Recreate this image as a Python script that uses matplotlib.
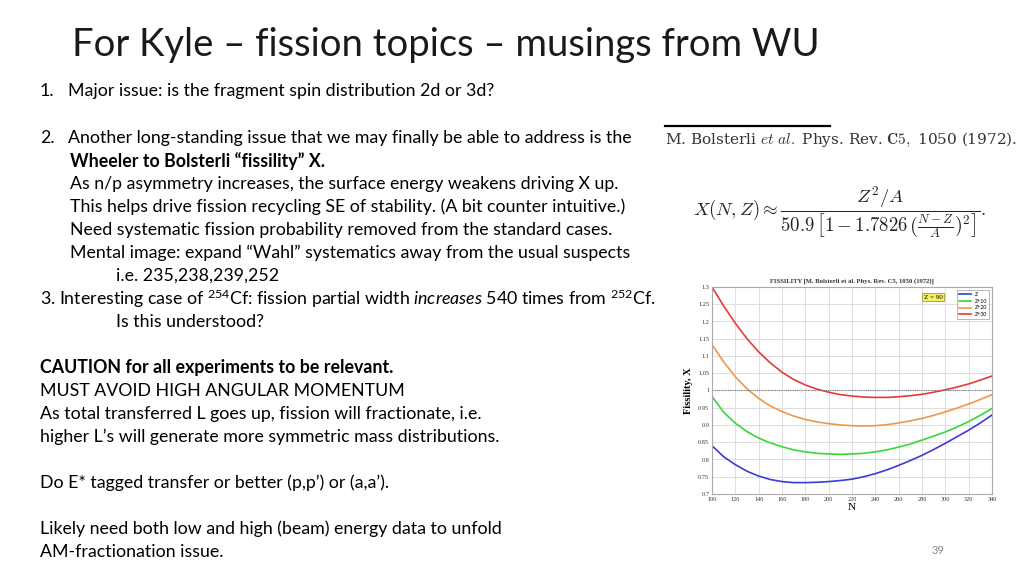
import numpy as np
import matplotlib
matplotlib.use("Agg")
import matplotlib.pyplot as plt

plt.rcParams["font.family"] = ["Lato", "DejaVu Sans"]
plt.rcParams["mathtext.fontset"] = "custom"
plt.rcParams["mathtext.rm"] = "Lato"
plt.rcParams["mathtext.it"] = "Lato:italic"
plt.rcParams["mathtext.bf"] = "Lato:bold"

# fissility curves (Z = 90)
n_vals = list(range(100, 341, 10))
x_z = [0.840, 0.808, 0.785, 0.766, 0.752, 0.742, 0.736, 0.733, 0.733, 0.734, 0.736, 0.739, 0.743,
       0.750, 0.759, 0.770, 0.783, 0.797, 0.812, 0.829, 0.847, 0.866, 0.885, 0.906, 0.929]
x_z10 = [0.983, 0.937, 0.905, 0.881, 0.862, 0.848, 0.837, 0.828, 0.822, 0.818, 0.816, 0.815, 0.816,
         0.818, 0.822, 0.828, 0.836, 0.845, 0.856, 0.868, 0.880, 0.894, 0.910, 0.928, 0.948]
x_z20 = [1.133, 1.083, 1.040, 1.005, 0.977, 0.955, 0.939, 0.926, 0.916, 0.909, 0.904, 0.900, 0.898,
         0.897, 0.898, 0.901, 0.906, 0.912, 0.919, 0.928, 0.938, 0.949, 0.961, 0.974, 0.988]
x_z30 = [1.300, 1.245, 1.195, 1.150, 1.112, 1.080, 1.053, 1.032, 1.016, 1.004, 0.995, 0.988, 0.984,
         0.981, 0.980, 0.980, 0.982, 0.985, 0.989, 0.995, 1.002, 1.010, 1.019, 1.030, 1.042]
series_labels = ["Z", "Z+10", "Z+20", "Z+30"]
series_colors = ["#3b3bd6", "#3ad63a", "#f0964a", "#e63a3a"]
x_ticks = list(range(100, 341, 20))
y_ticks = [0.7, 0.75, 0.8, 0.85, 0.9, 0.95, 1, 1.05, 1.1, 1.15, 1.2, 1.25, 1.3]

W, H = 1024, 576
fig = plt.figure(figsize=(W / 100, H / 100), dpi=100)


def ftext(x, y, s, **kw):
    kw.setdefault("va", "center")
    kw.setdefault("ha", "left")
    return fig.text(x / W, 1 - y / H, s, **kw)


# title
ftext(72, 45, "For Kyle – fission topics – musings from WU", fontsize=27.5,
      color="#1a1a1a")

fs = 12.8
ftext(40, 91, "1.", fontsize=fs)
ftext(68, 91, "Major issue: is the fragment spin distribution 2d or 3d?", fontsize=fs)
ftext(40, 138, "2.", fontsize=fs)
ftext(68, 138, "Another long-standing issue that we may finally be able to address is the", fontsize=fs)
ftext(70, 161, "Wheeler to Bolsterli “fissility” X.", fontsize=fs, fontweight="bold")
ftext(70, 184, "As n/p asymmetry increases, the surface energy weakens driving X up.", fontsize=fs)
ftext(70, 207, "This helps drive fission recycling SE of stability. (A bit counter intuitive.)", fontsize=fs)
ftext(70, 230, "Need systematic fission probability removed from the standard cases.", fontsize=fs)
ftext(70, 253, "Mental image: expand “Wahl” systematics away from the usual suspects", fontsize=fs)
ftext(116, 276, "i.e. 235,238,239,252", fontsize=fs)
ftext(40, 299, r"3. Interesting case of $^{254}$Cf: fission partial width $\mathit{increases}$ 540 times from $^{252}$Cf.",
      fontsize=fs)
ftext(116, 322, "Is this understood?", fontsize=fs)
ftext(40, 368, "CAUTION for all experiments to be relevant.", fontsize=fs, fontweight="bold")
ftext(40, 391, "MUST AVOID HIGH ANGULAR MOMENTUM", fontsize=fs)
ftext(40, 414, "As total transferred L goes up, fission will fractionate, i.e.", fontsize=fs)
ftext(40, 437, "higher L’s will generate more symmetric mass distributions.", fontsize=fs)
ftext(40, 483, "Do E* tagged transfer or better (p,p’) or (a,a’).", fontsize=fs)
ftext(40, 529, "Likely need both low and high (beam) energy data to unfold", fontsize=fs)
ftext(40, 552, "AM-fractionation issue.", fontsize=fs)

ftext(938, 550, "39", fontsize=8, color="#888888", ha="center")

# reference and formula
fig.add_artist(plt.Line2D([665 / W, 830 / W], [1 - 126 / H, 1 - 126 / H], color="black", lw=1.6))
ftext(665, 140, r"M. Bolsterli $\mathit{et\ al.}$ Phys. Rev. $\mathbf{C5,}$ 1050 (1972).",
      fontsize=11, family="DejaVu Serif", math_fontfamily="cm", color="#333333")
ftext(840, 212, r"$X(N,Z) \approx \dfrac{Z^2/A}{50.9\,\left[1-1.7826\,\left(\frac{N-Z}{A}\right)^2\right]}.$",
      fontsize=13.5, ha="center", math_fontfamily="cm", color="#222222")

# embedded fissility plot
ax = fig.add_axes([712 / W, 1 - 494 / H, 280 / W, 207 / H])
for vals, lab, col in zip([x_z, x_z10, x_z20, x_z30], series_labels, series_colors):
    ax.plot(n_vals, vals, color=col, lw=1.2, label=lab)
ax.axhline(1.0, color="#777777", lw=0.8, ls=(0, (1, 1)))
ax.set_xlim(100, 340)
ax.set_ylim(0.7, 1.3)
ax.set_xticks(x_ticks)
ax.set_yticks(y_ticks)
ax.set_yticklabels([f"{v:g}" for v in y_ticks])
ax.grid(True, color="#dddddd", lw=0.7)
ax.tick_params(labelsize=4.5, length=0, pad=2, colors="#333333")
for lab in ax.get_xticklabels() + ax.get_yticklabels():
    lab.set_family("Liberation Serif")
for sp in ax.spines.values():
    sp.set_color("#aaaaaa")
    sp.set_linewidth(0.8)
ax.set_xlabel("N", fontsize=8, family="Liberation Serif", labelpad=1)
ax.set_ylabel("Fissility, X", fontsize=7.5, family="Liberation Serif", fontweight="bold", labelpad=4)
ax.set_title("FISSILITY [M. Bolsterli et al. Phys. Rev. C5, 1050 (1972)]", fontsize=4.8,
             family="Liberation Serif", fontweight="bold", pad=3, color="#333333")
leg = ax.legend(loc="upper right", fontsize=3.8, frameon=True, fancybox=False,
                handlelength=2.2, borderpad=0.4, labelspacing=0.35, edgecolor="#999999")
leg.get_frame().set_linewidth(0.6)
ax.text(0.79, 0.95, "Z = 90", transform=ax.transAxes, fontsize=5, family="Liberation Serif",
        ha="center", va="center",
        bbox=dict(boxstyle="square,pad=0.2", fc="#f5f060", ec="#a0a020", lw=0.6))

fig.savefig("out.png", dpi=100)
